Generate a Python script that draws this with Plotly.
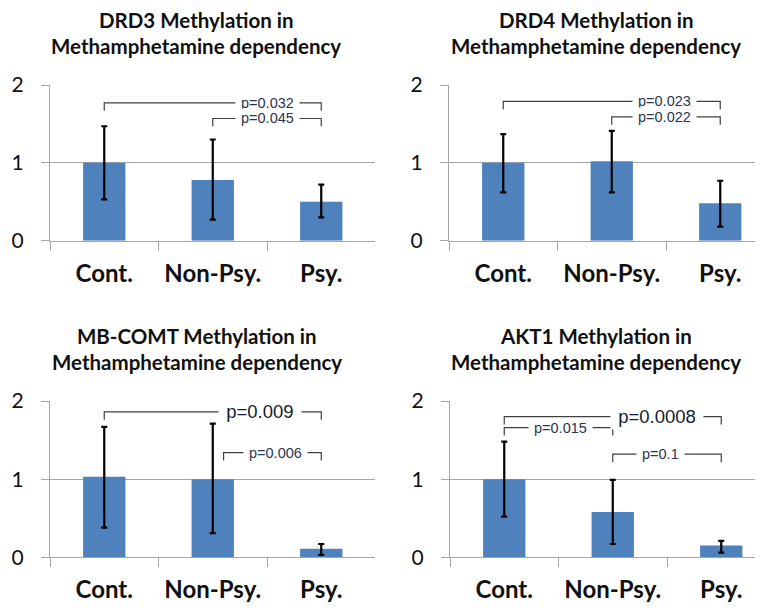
import plotly.graph_objects as go

# The page body keeps an 8px margin, so the figure is drawn 8px in from the
# top-left corner; size it so it fills the 763x612 window exactly.
OFF = 8
W, H = 763 - OFF, 612 - OFF

categories = ["Cont.", "Non-Psy.", "Psy."]
genes = ["DRD3", "DRD4", "MB-COMT", "AKT1"]

drd3_mean = [1.00, 0.78, 0.50]
drd3_err_plus = [0.47, 0.52, 0.22]
drd3_err_minus = [0.47, 0.51, 0.20]

drd4_mean = [1.00, 1.02, 0.48]
drd4_err_plus = [0.37, 0.39, 0.29]
drd4_err_minus = [0.38, 0.40, 0.30]

comt_mean = [1.03, 1.00, 0.11]
comt_err_plus = [0.64, 0.71, 0.06]
comt_err_minus = [0.65, 0.69, 0.08]

akt1_mean = [1.00, 0.58, 0.15]
akt1_err_plus = [0.48, 0.41, 0.06]
akt1_err_minus = [0.48, 0.41, 0.09]

y_ticks = [0, 1, 2]

# significance brackets: (left group, right group), level, label
drd3_pairs = [(0, 2), (1, 2)]
drd3_levels = [1.77, 1.57]
drd3_labels = ["p=0.032", "p=0.045"]

drd4_pairs = [(0, 2), (1, 2)]
drd4_levels = [1.79, 1.59]
drd4_labels = ["p=0.023", "p=0.022"]

comt_pairs = [(0, 2), (1, 2)]
comt_levels = [1.86, 1.34]
comt_labels = ["p=0.009", "p=0.006"]

akt1_pairs = [(0, 2), (0, 1), (1, 2)]
akt1_levels = [1.80, 1.66, 1.32]
akt1_labels = ["p=0.0008", "p=0.015", "p=0.1"]

panels = [
    (drd3_mean, drd3_err_plus, drd3_err_minus, drd3_pairs, drd3_levels, drd3_labels),
    (drd4_mean, drd4_err_plus, drd4_err_minus, drd4_pairs, drd4_levels, drd4_labels),
    (comt_mean, comt_err_plus, comt_err_minus, comt_pairs, comt_levels, comt_labels),
    (akt1_mean, akt1_err_plus, akt1_err_minus, akt1_pairs, akt1_levels, akt1_labels),
]

# ---- layout geometry (window pixels) ----
boxes = [
    (50, 375, 85, 240.7),
    (449, 763, 85, 240.7),
    (50, 375, 401, 557.3),
    (450, 763, 401, 557.3),
]
cat_px = 108.5
title_cx = [196, 596, 197, 596]
title_y = [(20, 46), (20, 46), (336, 362), (336, 362)]
label_x = [[1.5, 1.5], [1.49, 1.49], [1.44, 1.58], [1.41, 0.52, 1.44]]
left_offsets = [[0, 0], [0, 0], [0, 0.1], [0, 0, 0]]
big_labels = {(2, 0), (3, 0)}


def px_x(px):
    return (px - OFF) / W


def px_y(py):
    return 1 - (py - OFF) / H


BLUE = "#4F81BD"
GRID = "#a6a6a6"
BRACKET = "#404040"
PTEXT = "#2a3550"

fig = go.Figure()
layout = dict(
    width=W, height=H,
    margin=dict(l=0, r=0, t=0, b=0, autoexpand=False),
    paper_bgcolor="white", plot_bgcolor="white",
    showlegend=False,
)
annotations = []
shapes = []

for i, (mean, ep, em, pairs, levels, labels) in enumerate(panels):
    n = "" if i == 0 else str(i + 1)
    xa, ya = "x" + n, "y" + n
    l, r, t, b = boxes[i]
    xmax = -0.5 + (r - l) / cat_px
    layout["xaxis" + n] = dict(
        domain=[px_x(l), min(1, px_x(r))], anchor=ya, type="category",
        range=[-0.5, xmax], automargin=False,
        showline=True, linecolor=GRID, linewidth=1,
        ticks="outside", tickson="boundaries", ticklen=9, tickcolor=GRID,
        showgrid=False, zeroline=False,
        tickfont=dict(family="Lato", size=24, color="#111111", weight="bold"),
        ticklabelstandoff=11,
        fixedrange=True,
    )
    layout["yaxis" + n] = dict(
        domain=[px_y(b), px_y(t)], anchor=xa,
        range=[0, 2], tickvals=y_ticks, automargin=False,
        showline=True, linecolor=GRID, linewidth=1,
        showgrid=True, gridcolor=GRID, gridwidth=1,
        ticks="outside", ticklen=8, tickcolor=GRID,
        zeroline=False,
        tickfont=dict(family="Lato", size=21, color="#111111"),
        ticklabelstandoff=13,
        fixedrange=True,
    )
    fig.add_trace(go.Bar(
        x=categories, y=mean, xaxis=xa, yaxis=ya,
        marker=dict(color=BLUE, line=dict(width=0)),
        width=0.39,
        error_y=dict(type="data", array=ep, arrayminus=em, symmetric=False,
                     color="black", thickness=2.2, width=3),
        hoverinfo="skip",
    ))
    for j, ((a, c), lev, lab) in enumerate(zip(pairs, levels, labels)):
        a2 = a + left_offsets[i][j]
        leg = lev - 0.1
        shapes.append(dict(
            type="path", xref=xa, yref=ya,
            path=f"M {a2} {leg} L {a2} {lev} L {c} {lev} L {c} {leg}",
            line=dict(color=BRACKET, width=1.2), layer="above",
        ))
        big = (i, j) in big_labels
        annotations.append(dict(
            x=label_x[i][j], y=lev, xref=xa, yref=ya,
            text="&nbsp;" + lab + "&nbsp;", showarrow=False,
            font=dict(family="Liberation Sans, Arial", size=18.5 if big else 14.5,
                      color="#151c2c" if big else PTEXT),
            bgcolor="white", borderpad=2 if big else 1,
            xanchor="center", yanchor="middle",
        ))
    gene = genes[i]
    for k, txt in enumerate([gene + " Methylation in", "Methamphetamine dependency"]):
        annotations.append(dict(
            x=px_x(title_cx[i]), y=px_y(title_y[i][k]),
            xref="paper", yref="paper", text=txt, showarrow=False,
            xanchor="center", yanchor="middle",
            font=dict(family="Lato", size=20.5, color="#111111", weight="bold"),
        ))

layout["annotations"] = annotations
layout["shapes"] = shapes
fig.update_layout(**layout)
fig.write_html("out.html")
